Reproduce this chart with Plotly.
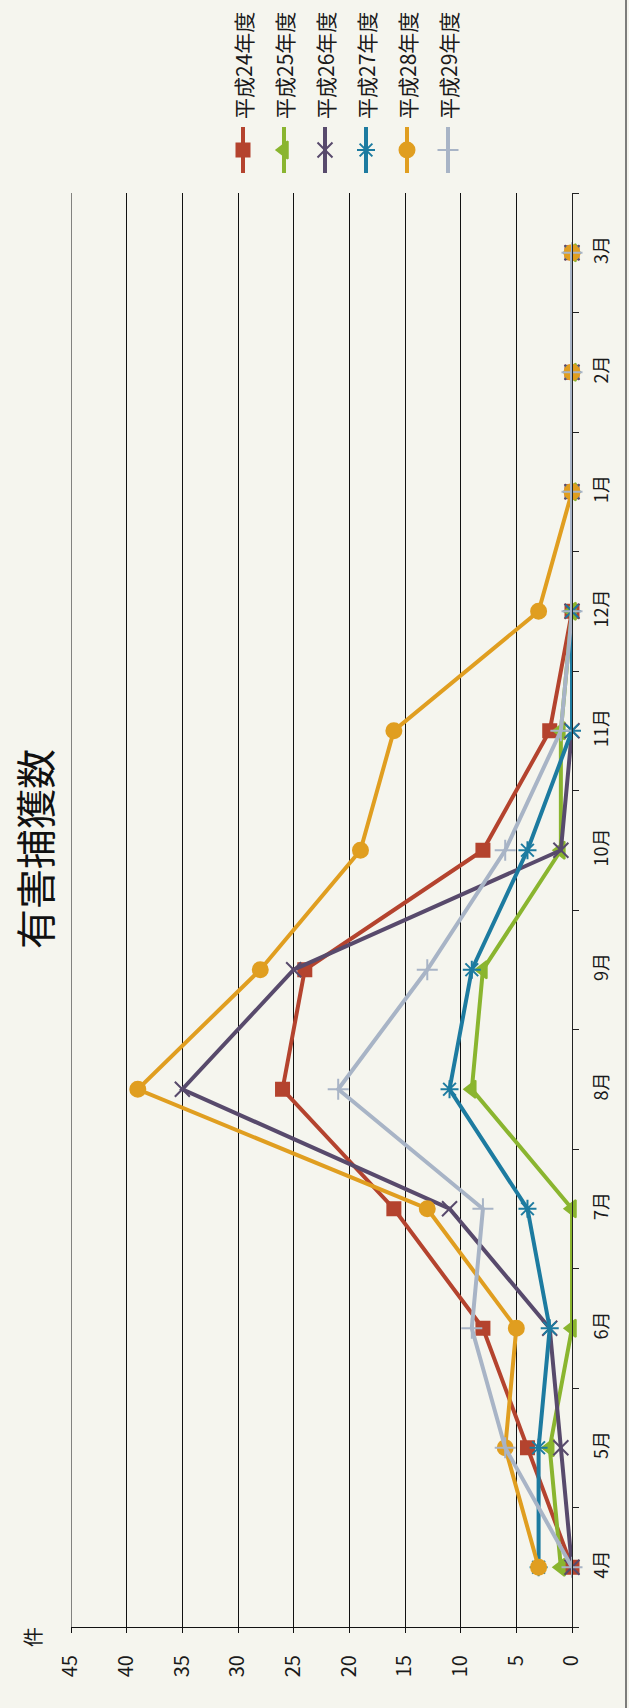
import plotly.graph_objects as go

# ---------------- data ----------------
months = ["4月", "5月", "6月", "7月", "8月", "9月", "10月", "11月", "12月", "1月", "2月", "3月"]
series_names = ["平成24年度", "平成25年度", "平成26年度", "平成27年度", "平成28年度", "平成29年度"]
h24 = [0, 4, 8, 16, 26, 24, 8, 2, 0, 0, 0, 0]
h25 = [1, 2, 0, 0, 9, 8, 1, 1, 0, 0, 0, 0]
h26 = [0, 1, 2, 11, 35, 25, 1, 0, 0, 0, 0, 0]
h27 = [3, 3, 2, 4, 11, 9, 4, 0, 0, 0, 0, 0]
h28 = [3, 6, 5, 13, 39, 28, 19, 16, 3, 0, 0, 0]
h29 = [0, 6, 9, 8, 21, 13, 6, 1, 0, 0, 0, 0]
value_ticks = [0, 5, 10, 15, 20, 25, 30, 35, 40, 45]
title_text = "有害捕獲数"
unit_text = "件"

# ---------------- style ----------------
W, H = 629, 1708
colors = ["#B4432E", "#8AB52F", "#584A6C", "#1D7BA0", "#E09E20", "#A8B4C6"]
symbols = ["square", "triangle-left", "x-thin-open", "asterisk-open", "circle", "cross-thin-open"]
sizes = [13, 15, 15, 15, 15, 15]
FONT = "Noto Sans CJK JP"
BG = "#F5F5EE"

# plot area in pixels
PL, PR, PT, PB = 71, 572, 193, 1627

fig = go.Figure()
all_vals = [h24, h25, h26, h27, h28, h29]
for name, vals, col, sym, sz in zip(series_names, all_vals, colors, symbols, sizes):
    fig.add_trace(go.Scatter(
        x=vals, y=months, name=name, mode="lines+markers",
        line=dict(color=col, width=4),
        marker=dict(symbol=sym, size=sz, color=col, line=dict(color=col, width=2)),
        showlegend=False, cliponaxis=False, xaxis="x", yaxis="y",
    ))

# custom rotated legend (on an overlay axis measured in pixels)
leg_x0, leg_dx = 243, 41
for i, (name, col, sym, sz) in enumerate(zip(series_names, colors, symbols, sizes)):
    lx = leg_x0 + leg_dx * i
    fig.add_trace(go.Scatter(
        x=[lx, lx], y=[127, 173], mode="lines",
        line=dict(color=col, width=4),
        showlegend=False, xaxis="x2", yaxis="y2", hoverinfo="skip", cliponaxis=False,
    ))
    fig.add_trace(go.Scatter(
        x=[lx], y=[150], mode="markers",
        marker=dict(symbol=sym, size=sz, color=col, line=dict(color=col, width=2)),
        showlegend=False, xaxis="x2", yaxis="y2", hoverinfo="skip", cliponaxis=False,
    ))
    fig.add_annotation(
        x=lx, y=66, xref="x2", yref="y2", text=name, showarrow=False,
        xanchor="center", yanchor="middle",
        textangle=-90, font=dict(family=FONT, size=21, color="#1a1a1a"),
    )

fig.update_layout(
    template="none",
    width=W, height=H,
    margin=dict(l=0, r=0, t=0, b=0, pad=0),
    paper_bgcolor=BG, plot_bgcolor="rgba(0,0,0,0)",
    font=dict(family=FONT, color="#1a1a1a"),
    xaxis=dict(
        domain=[PL / W, PR / W], range=[45, 0], autorange=False, automargin=False,
        tickvals=value_ticks, ticktext=[str(v) for v in value_ticks],
        showgrid=True, gridcolor="#111111", gridwidth=1,
        zeroline=False, showline=True, linecolor="#111111", linewidth=1.2,
        ticks="outside", ticklen=5, tickcolor="#111111",
        tickangle=-90, tickfont=dict(family=FONT, size=20, color="#1a1a1a"),
        ticklabelstandoff=14, anchor="y", side="bottom",
    ),
    yaxis=dict(
        domain=[1 - PB / H, 1 - PT / H], type="category",
        categoryorder="array", categoryarray=months,
        range=[-0.5, 11.5], autorange=False, automargin=False,
        side="right", showgrid=False, zeroline=False,
        showline=True, linecolor="#222222", linewidth=1.2,
        ticks="outside", ticklen=6, tickcolor="#222222", tickson="boundaries",
        tickangle=-90, tickfont=dict(family=FONT, size=18, color="#1a1a1a"),
        ticklabelstandoff=13, anchor="x",
    ),
    xaxis2=dict(domain=[0, 1], range=[0, W], visible=False, anchor="y2",
                fixedrange=True, automargin=False),
    yaxis2=dict(domain=[0, 1], range=[H, 0], visible=False, anchor="x2",
                fixedrange=True, automargin=False),
    showlegend=False,
)

# left edge gridline at the axis maximum
fig.add_shape(type="line", xref="x", yref="y domain", x0=45, x1=45, y0=0, y1=1,
              line=dict(color="#111111", width=1))

# title and unit label (rotated)
fig.add_annotation(
    x=34 / W, y=1 - 849 / H, xref="paper", yref="paper", text=title_text,
    xanchor="center", yanchor="middle",
    showarrow=False, textangle=-90, font=dict(family=FONT, size=40, color="#111111"),
)
fig.add_annotation(
    x=32 / W, y=1 - 1637 / H, xref="paper", yref="paper", text=unit_text,
    xanchor="center", yanchor="middle",
    showarrow=False, textangle=-90, font=dict(family=FONT, size=20, color="#1a1a1a"),
)
# chart-area border on the right
fig.add_shape(type="line", xref="paper", yref="paper", x0=626 / W, x1=626 / W, y0=0, y1=1,
              line=dict(color="#555555", width=1.5))

fig.write_html(
    "out.html",
    config={"displayModeBar": False},
    post_script="document.body.style.margin='0';document.body.style.background='%s';" % BG,
)
